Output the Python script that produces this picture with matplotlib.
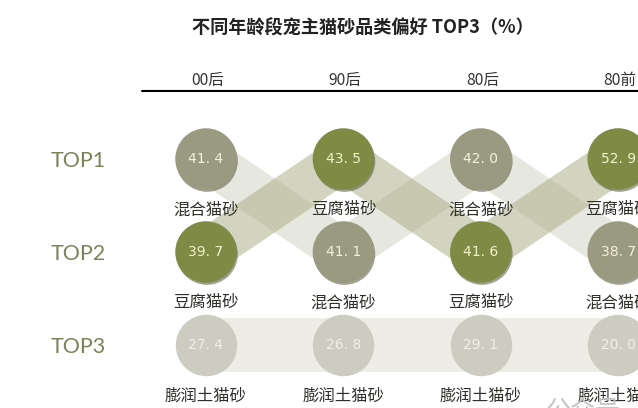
import matplotlib
matplotlib.use("Agg")
import matplotlib.pyplot as plt
import matplotlib.patheffects as pe

plt.rcParams['font.family'] = ['Noto Sans CJK SC', 'DejaVu Sans']

title = "不同年龄段宠主猫砂品类偏好 TOP3（%）"
generations = ["00后", "90后", "80后", "80前"]
ranks = ["TOP1", "TOP2", "TOP3"]
tofu = "豆腐猫砂"
mixed = "混合猫砂"
bentonite = "膨润土猫砂"
tofu_values = [39.7, 43.5, 41.6, 52.9]
mixed_values = [41.4, 41.1, 42.0, 38.7]
bentonite_values = [27.4, 26.8, 29.1, 20.0]

series = {tofu: tofu_values, mixed: mixed_values, bentonite: bentonite_values}
circle_colors = {tofu: "#7f8a45", mixed: "#9a9a80", bentonite: "#cdccc1"}
band_colors = {tofu: ("#a9ab82", 0.50), mixed: ("#b5b79d", 0.33), bentonite: ("#c9cab5", 0.33)}
value_colors = {tofu: "#f0f2c8", mixed: "#f3f1d8", bentonite: "#f1f0e6"}

W, H = 638, 408
X0, DX, Y0, DY = 206, 137.4, 159, 93
fig = plt.figure(figsize=(W / 100, H / 100), dpi=100, facecolor="white")
ax = fig.add_axes([0, 0, 1, 1])
ax.set_xlim(-X0 / DX, (W - X0) / DX)
ax.set_ylim((H - Y0) / DY, -Y0 / DY)
ax.axis("off")

def rank_of(name, col):
    vals = sorted(((v[col], k) for k, v in series.items()), reverse=True)
    return [k for _, k in vals].index(name)

half = 27 / DY
for name in [bentonite, mixed, tofu]:
    col_color, alpha = band_colors[name]
    for c in range(len(generations) - 1):
        r0, r1 = rank_of(name, c), rank_of(name, c + 1)
        ax.fill([c, c + 1, c + 1, c], [r0 - half, r1 - half, r1 + half, r0 + half],
                color=col_color, alpha=alpha, lw=0, zorder=1)

shadow = [pe.SimplePatchShadow(offset=(0.8, -1.5), shadow_rgbFace="#55553f", alpha=0.55), pe.Normal()]
for name, vals in series.items():
    for c, v in enumerate(vals):
        r = rank_of(name, c)
        sc = ax.scatter([c], [r], s=1960, color=circle_colors[name], lw=0, zorder=3, clip_on=False)
        if name != bentonite:
            sc.set_path_effects(shadow)
        whole, frac = f"{v:.1f}".split(".")
        ax.annotate(f"{whole}. {frac}", (c, r), ha="center", va="center", fontsize=10,
                    color=value_colors[name], zorder=4, family=["DejaVu Sans"])
        ax.annotate(name, (c, r), xytext=(0, -36.5), textcoords="offset points",
                    ha="center", va="center", fontsize=11.8, color="#2f2f2a", zorder=5)

for c, g in enumerate(generations):
    ax.annotate(g, (c, 0), xytext=(1.2, 56.5), textcoords="offset points", ha="center", va="center",
                fontsize=11.2, color="#333333")

for r, label in enumerate(ranks):
    ax.annotate(label, (0, r), xytext=(-112, -1.5), textcoords="offset points", ha="left", va="center",
                fontsize=15.5, color="#7d8358", family=["Lato"])

ax.annotate("", xy=(1, 0.777), xycoords="axes fraction", xytext=(0.2226, 0.777), textcoords="axes fraction",
            arrowprops=dict(arrowstyle="-", color="black", lw=1.5, shrinkA=0, shrinkB=0))
fig.text(0.569, 0.931, title, ha="center", va="center", fontsize=13.1, fontweight="bold", color="#222222")
fig.text(0.855, -0.008, "公众号", ha="left", va="center", fontsize=18, color="#c4c4c4", zorder=0)

fig.savefig("out.png", dpi=100, facecolor="white")
